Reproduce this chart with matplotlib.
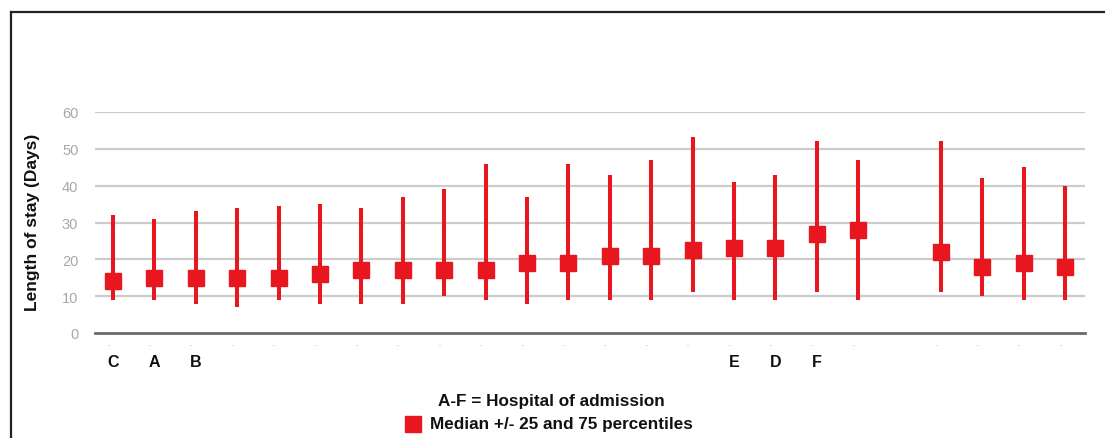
import matplotlib
matplotlib.use("Agg")
import matplotlib.pyplot as plt
import matplotlib.transforms as mtransforms
from matplotlib.lines import Line2D
from matplotlib.patches import Rectangle
import numpy as np

plt.rcParams['font.family'] = ['Liberation Sans', 'DejaVu Sans']

# ---- data ----
labels = ['C', 'A', 'B', '-', '-', '-', '-', '-', '-', '-', '-', '-', '-', '-', '-',
          'E', 'D', 'F', '-', '', '-', '-', '-', '-']
p75 = [32, 31, 33, 34, 34.6, 35, 34, 37, 39, 46, 37, 46, 43, 47, 53.3,
       41, 43, 52, 47, None, 52, 42, 45, 40]
p25 = [9, 9, 8, 7, 9, 8, 8, 8, 10, 9, 8, 9, 9, 9, 11,
       9, 9, 11, 9, None, 11, 10, 9, 9]
median = [14, 15, 15, 15, 15, 16, 17, 17, 17, 17, 19, 19, 21, 21, 22.4,
          23, 23, 27, 28, None, 22, 18, 19, 18]
yticks = [0, 10, 20, 30, 40, 50, 60]
ylabel = 'Length of stay (Days)'
note = 'A-F = Hospital of admission'
legend_label = 'Median +/- 25 and 75 percentiles'

RED = '#e8161e'
W, H = 1105, 439
fig = plt.figure(figsize=(W / 100, H / 100), dpi=100)

ax_l, ax_r, ax_t, ax_b = 95, 1085, 113, 334
ax = fig.add_axes([ax_l / W, 1 - ax_b / H, (ax_r - ax_l) / W, (ax_b - ax_t) / H])

n = len(labels)
x = np.arange(n)
for i in range(n):
    if median[i] is None:
        continue
    ax.plot([x[i], x[i]], [p25[i], p75[i]], color=RED, lw=2.9, solid_capstyle='butt', zorder=3)
    ax.plot([x[i]], [median[i]], marker='s', ms=11.5, color=RED, mec=RED, zorder=4)

ax.set_xlim(-0.435, n - 1 + 0.48)
ax.set_ylim(0, 60)
ax.set_yticks(yticks)
ax.set_yticklabels([str(t) for t in yticks], color='#a8a8a8', fontsize=10.5)
ax.tick_params(axis='y', length=0, pad=12)
ax.tick_params(axis='x', length=0)
ax.set_xticks(x)
ax.set_xticklabels([l if l not in ('-', '') else '' for l in labels],
                   fontsize=11.5, fontweight='bold', color='#111111')
ax.tick_params(axis='x', pad=15)
for s in ax.spines.values():
    s.set_visible(False)
for t in yticks[1:]:
    ax.axhline(t, color='#cccccc', lw=1.6, zorder=1)
ax.axhline(0, color='#6a6a6a', lw=2.0, zorder=2, clip_on=False)

# small grey dash labels under each category
offset = mtransforms.offset_copy(ax.get_xaxis_transform(), fig=fig, x=-5, y=-11, units='dots')
for i in range(n):
    if labels[i] == '':
        continue
    ax.text(x[i], 0, '-', transform=offset, ha='center', va='center',
            color='#d8d8d8', fontsize=8, clip_on=False)

ax.set_ylabel(ylabel, fontsize=12.5, fontweight='bold', color='#111111')
ax.yaxis.set_label_coords((40 - ax_l) / (ax_r - ax_l), 0.5 - (222 - (ax_t + ax_b) / 2) / (ax_b - ax_t))

# notes and legend
fig.text(551 / W, 1 - 402 / H, note, ha='center', va='center', fontsize=12.3,
         fontweight='bold', color='#111111')
fig.patches.append(Rectangle((405 / W, 1 - 433 / H), 16 / W, 16 / H,
                             transform=fig.transFigure, color=RED, figure=fig))
fig.text(430 / W, 1 - 425 / H, legend_label, ha='left', va='center', fontsize=12.3,
         fontweight='bold', color='#111111')

# outer frame (top and left only)
fig.add_artist(Line2D([11 / W, 1], [1 - 13 / H, 1 - 13 / H], transform=fig.transFigure,
                      color='#222222', lw=1.6))
fig.add_artist(Line2D([11 / W, 11 / W], [0, 1 - 13 / H], transform=fig.transFigure,
                      color='#222222', lw=1.6))

fig.savefig('out.png', dpi=100)
